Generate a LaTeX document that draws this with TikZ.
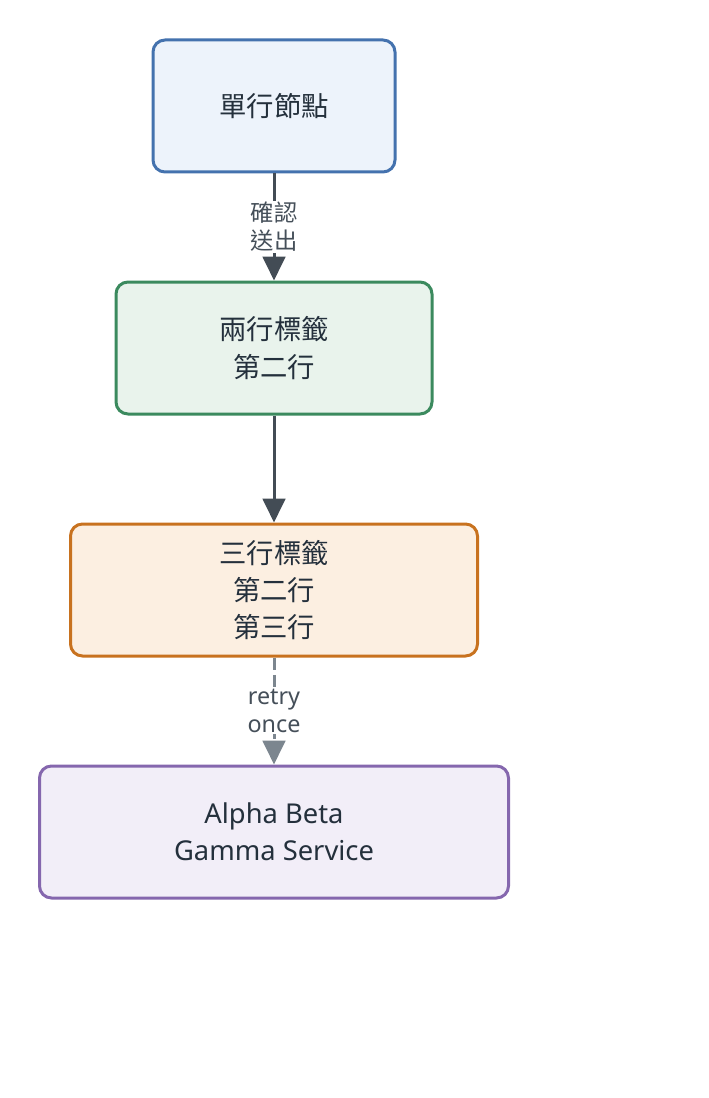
\documentclass[tikz,border=0pt]{standalone}
\usepackage{fontspec}
\setmainfont{Noto Sans}
\newfontfamily\cjk{Noto Sans CJK TC}
\usepackage{tikz}
\usetikzlibrary{arrows.meta,positioning}
\definecolor{ink}{HTML}{24303C}
\definecolor{edgegray}{HTML}{434C55}
\definecolor{retrygray}{HTML}{7C868F}
\definecolor{blueline}{HTML}{4472AE}\definecolor{bluefill}{HTML}{EDF3FB}
\definecolor{greenline}{HTML}{3B8A5E}\definecolor{greenfill}{HTML}{E9F3EC}
\definecolor{orangeline}{HTML}{C8721F}\definecolor{orangefill}{HTML}{FCEFE1}
\definecolor{purpleline}{HTML}{8567AE}\definecolor{purplefill}{HTML}{F2EEF8}

\begin{document}
\begin{tikzpicture}[x=0.75pt,y=-0.75pt,
		box/.style={draw,line width=2.25pt,rounded corners=9pt,minimum height=99pt,align=center,text=ink,font=\fontsize{20.5}{28}\selectfont},
		cjkbox/.style={box,font=\cjk\fontsize{20.5}{28}\selectfont},
		link/.style={line width=2.25pt,color=edgegray,-{Triangle[length=18pt,width=17pt]}},
		retry/.style={link,color=retrygray,dash pattern=on 9pt off 4pt},
		lbl/.style={fill=white,inner sep=1pt,align=center,text=ink!85,font=\fontsize{17.5}{21}\selectfont}]
			\useasboundingbox (0,0) rectangle (708,1098);
			\node[cjkbox,draw=blueline,fill=bluefill,minimum width=181.5pt] (single) at (274,106) {單行節點};
			\node[cjkbox,draw=greenline,fill=greenfill,minimum width=237pt] (twoline) at (274,348) {兩行標籤\\第二行};
			\node[cjkbox,draw=orangeline,fill=orangefill,minimum width=305.25pt] (threeline) at (274,590) {三行標籤\\第二行\\第三行};
			\node[box,draw=purpleline,fill=purplefill,minimum width=351.75pt] (service) at (274,832) {Alpha Beta\\Gamma Service};
			\draw[link] (single) -- node[lbl,font=\cjk\fontsize{17.5}{21}\selectfont]{確認\\送出} (twoline);
			\draw[link] (twoline) -- (threeline);
			\draw[retry] (threeline) -- node[lbl]{retry\\once} (service);
\end{tikzpicture}
\end{document}
